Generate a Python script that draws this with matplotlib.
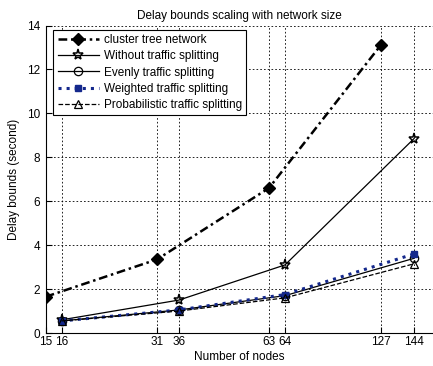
import numpy as np
import matplotlib
matplotlib.use("Agg")
import matplotlib.pyplot as plt

plt.rcParams['font.family'] = ['Liberation Sans', 'DejaVu Sans']
plt.rcParams['font.size'] = 8

# Datos
nodos_cluster = [15, 31, 63, 127]
nodos_malla = [16, 36, 64, 144]

cluster_tree = [1.65, 3.35, 6.6, 13.1]
sin_split = [0.6, 1.5, 3.1, 8.85]
uniforme = [0.55, 1.05, 1.7, 3.4]
ponderado = [0.55, 1.05, 1.75, 3.6]
probabilistico = [0.55, 1.0, 1.6, 3.15]

ticks_x = [15, 16, 31, 36, 63, 64, 127, 144]
ticks_y = [0, 2, 4, 6, 8, 10, 12, 14]

# escala no lineal del eje x (posicion relativa de cada tick)
escala_n = [15, 16, 31, 36, 63, 64, 127, 144, 154]
escala_p = [0, 16, 111.3, 133.3, 223.3, 239.3, 335, 368.3, 387.3]


def fwd(v):
    return np.interp(v, escala_n, escala_p)


def inv(p):
    return np.interp(p, escala_p, escala_n)


fig = plt.figure(figsize=(4.33, 3.66), dpi=100)
ax = fig.add_axes([45.7/433, 33/366, (433-45.7)/433, (333.5-26)/366])
ax.set_xscale('function', functions=(fwd, inv))

ax.plot(nodos_cluster, cluster_tree, color="k", linestyle=(0, (3.5, 1.5, 1, 1.5)), lw=1.8,
        marker="D", ms=6, mfc="k", mec="k", label="cluster tree network")
ax.plot(nodos_malla, sin_split, color="k", linestyle="-", lw=0.9,
        marker="*", ms=8, mfc="none", mec="k", mew=1.1, label="Without traffic splitting")
ax.plot(nodos_malla, uniforme, color="k", linestyle="-", lw=0.9,
        marker="o", ms=6, mfc="none", mec="k", mew=0.9, label="Evenly traffic splitting")
ax.plot(nodos_malla, ponderado, color="#14288c", linestyle=":", lw=2.2,
        marker="s", ms=5, mfc="#14288c", mec="#14288c", label="Weighted traffic splitting")
ax.plot(nodos_malla, probabilistico, color="k", linestyle="--", lw=0.9,
        marker="^", ms=6, mfc="none", mec="k", mew=0.9, label="Probabilistic traffic splitting")

ax.set_xlim(15, 154)
ax.set_ylim(0, 14)
ax.set_xticks(ticks_x)
ax.set_xticklabels([str(n) for n in ticks_x])
ax.set_yticks(ticks_y)
ax.minorticks_off()
ax.tick_params(direction="in", length=4, width=0.8, labelsize=8.5)
ax.tick_params(axis="x", pad=2)
ax.tick_params(axis="y", pad=4)
ax.grid(True, color="k", linestyle=(0, (2, 2.5)), lw=0.6)
for s in ["top", "right"]:
    ax.spines[s].set_visible(False)
for s in ["left", "bottom"]:
    ax.spines[s].set_linewidth(0.8)

ax.set_title("Delay bounds scaling with network size", fontsize=8.5, pad=5)
ax.set_xlabel("Number of nodes", fontsize=8.5, labelpad=2)
ax.set_ylabel("Delay bounds (second)", fontsize=8.5, labelpad=5)

leg = ax.legend(loc="upper left", bbox_to_anchor=(0.02, 0.985), fancybox=False, framealpha=1,
                edgecolor="k", fontsize=8.5, handlelength=3.5, handletextpad=0.4,
                borderpad=0.35, labelspacing=0.35, borderaxespad=0)
leg.get_frame().set_linewidth(0.8)

plt.savefig("out.png", dpi=100)
